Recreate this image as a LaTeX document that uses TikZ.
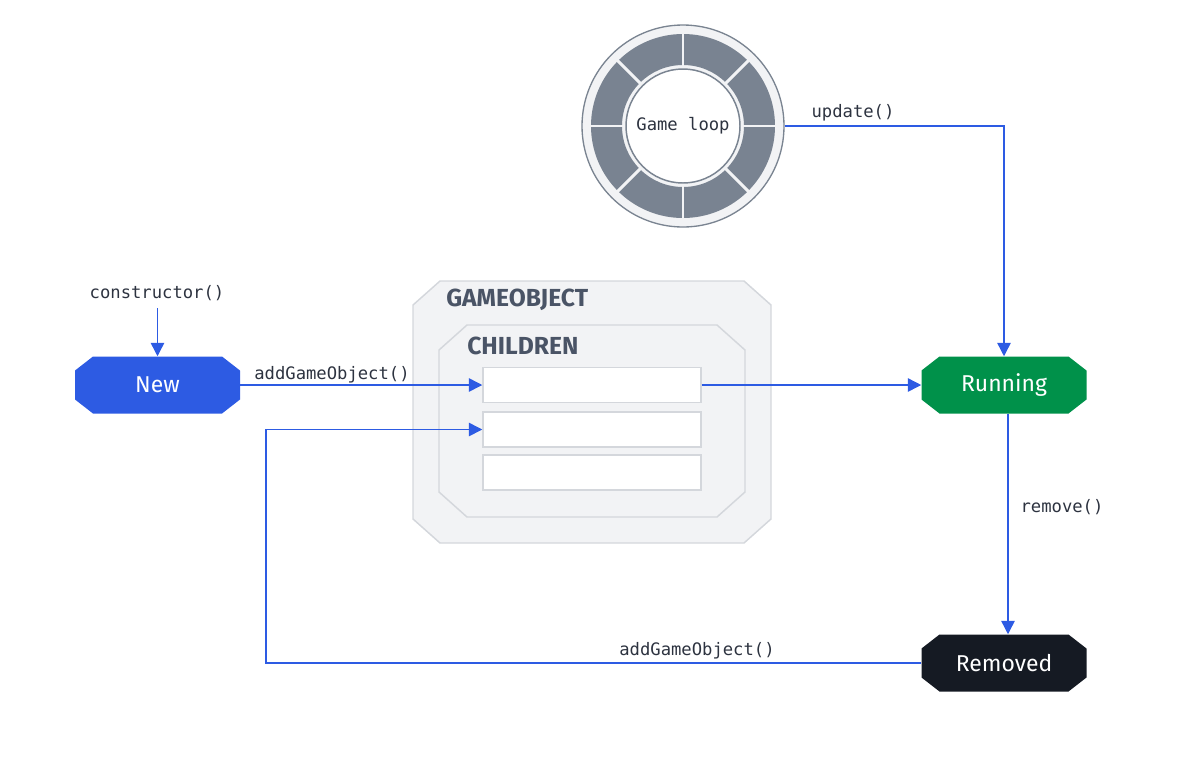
\documentclass[tikz,border=0pt]{standalone}
\usepackage{fontspec}
\setmainfont{Fira Sans}
\newfontfamily\monof{DejaVu Sans Mono}
\usetikzlibrary{arrows.meta,calc}
\definecolor{flowblue}{HTML}{2D5BE3}
\definecolor{rungreen}{HTML}{00914A}
\definecolor{remblack}{HTML}{151A23}
\definecolor{monotext}{HTML}{2D3340}
\definecolor{contlabel}{HTML}{4A5466}
\definecolor{contfill}{HTML}{F2F3F5}
\definecolor{contborder}{HTML}{D4D7DC}
\definecolor{ringdark}{HTML}{798391}
\definecolor{ringborder}{HTML}{7A8491}
\begin{document}
\begin{tikzpicture}[x=0.75pt,y=-0.75pt,
  stateoct/.style={rectangle, minimum width=165*0.75pt, minimum height=57*0.75pt,
    inner sep=0pt, text=white, font=\fontsize{17.2}{20}\selectfont,
    path picture={\fill[#1]
      ($(path picture bounding box.north west)+(18,0)$) --
      ($(path picture bounding box.north east)+(-18,0)$) --
      ($(path picture bounding box.north east)+(0,14)$) --
      ($(path picture bounding box.south east)+(0,-14)$) --
      ($(path picture bounding box.south east)+(-18,0)$) --
      ($(path picture bounding box.south west)+(18,0)$) --
      ($(path picture bounding box.south west)+(0,-14)$) --
      ($(path picture bounding box.north west)+(0,14)$) -- cycle;}},
  container/.style={fill=contfill, draw=contborder, line width=1.1pt},
  contlbl/.style={anchor=west, inner sep=0pt, text=contlabel, font=\fontsize{18.5}{22}\selectfont\bfseries},
  slot/.style={rectangle, minimum width=218*0.75pt, minimum height=35*0.75pt, inner sep=0pt,
    fill=white, draw=contborder, line width=1.1pt},
  flow/.style={draw=flowblue, line width=1.1pt, -{Triangle[length=10pt,width=10pt]}, fill=none},
  monolbl/.style={inner sep=0pt, text=monotext, font=\monof\fontsize{12.9}{15}\selectfont}
]
\useasboundingbox (0,0) rectangle (1200,765);

% Game loop ring
\node[circle, minimum size=202*0.75pt, inner sep=0pt, fill=contfill, draw=ringborder, line width=1pt] (loop) at (683,126) {};
\fill[ringdark, even odd rule] (683,126) circle [radius=92] (683,126) circle [radius=61];
\foreach \a in {0,45,...,315}
  \draw[contfill, line width=2.2pt] ($(loop.center)+(\a:59)$) -- ($(loop.center)+(\a:93)$);
\node[circle, minimum size=114*0.75pt, inner sep=0pt, fill=white, draw=ringborder, line width=1.1pt,
  text=monotext, font=\monof\fontsize{12.9}{15}\selectfont] (looptext) at (683,126) {Game loop};

% Containers
\draw[container] (413,305) -- (440,281) -- (744,281) -- (771,305) -- (771,519) -- (744,543) -- (440,543) -- (413,519) -- cycle;
\node[contlbl] (golbl) at (446,300) {GAMEOBJECT};
\draw[container] (439,350) -- (467,325) -- (717,325) -- (745,350) -- (745,492) -- (717,517) -- (467,517) -- (439,492) -- cycle;
\node[contlbl] (chlbl) at (467,346) {CHILDREN};
\node[slot] (box1) at (592,385) {};
\node[slot] (box2) at (592,429.5) {};
\node[slot] (box3) at (592,472.5) {};

% States
\node[stateoct=flowblue] (new) at (157.5,385) {New};
\node[stateoct=rungreen] (running) at (1004,385) {Running};
\node[stateoct=remblack] (removed) at (1004,663) {Removed};

% Labels
\node[monolbl] (lblctor) at (157,293) {constructor()};
\node[monolbl] (lbladd1) at (332,375) {addGameObject()};
\node[monolbl] (lblupd) at (853,113) {update()};
\node[monolbl] (lblrem) at (1062,507) {remove()};
\node[monolbl] (lbladd2) at (697,651) {addGameObject()};

% Connectors
\coordinate (ctorstart) at (157.5,308);
\draw[flow] (ctorstart) -- (new.north);
\draw[flow] (new.east) -- (box1.west);
\draw[flow] (box1.east) -- (running.west);
\draw[flow] (loop.east) -| (running.north);
\draw[flow] ($(running.south)+(4,0)$) -- ($(removed.north)+(4,0)$);
\coordinate (backcorner) at (266,663);
\draw[flow] (removed.west) -- (backcorner) |- (box2.west);
\end{tikzpicture}
\end{document}
